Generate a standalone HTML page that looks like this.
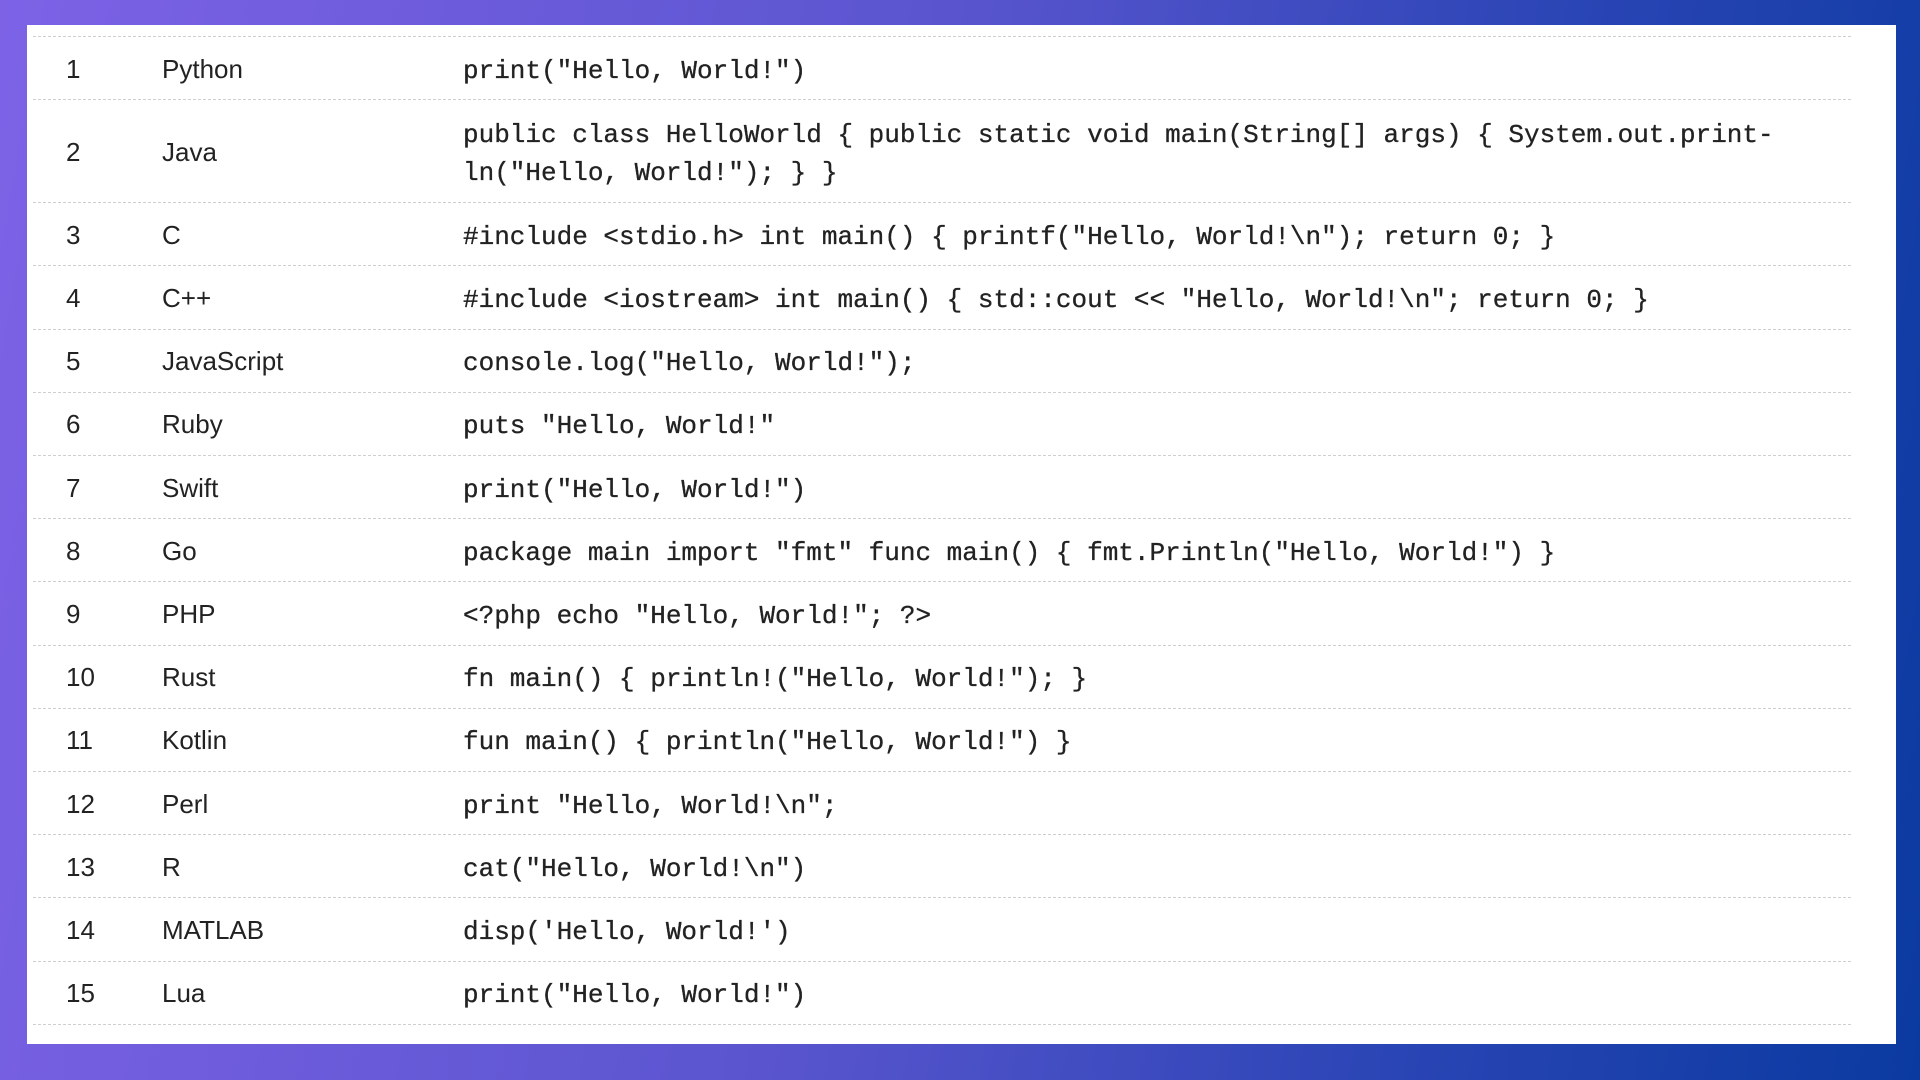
<!DOCTYPE html>
<html><head><style>
html,body{margin:0;padding:0;width:1920px;height:1080px;overflow:hidden}
body{background:linear-gradient(100deg,#7d62e6 0%,#5a55cf 45%,#2a45b5 75%,#0a3aa0 100%);position:relative}
#p{position:absolute;left:27px;top:25px;width:1869px;height:1019px;background:#fff}
.l{position:absolute;left:6px;width:1818px;border-top:1.5px dashed #cfcfcf}
.n,.g{position:absolute;font-family:"Liberation Sans",sans-serif;font-size:26px;color:#222}
.n{left:39px}.g{left:135px}
.c{position:absolute;left:436px;width:1400px;font-family:"Liberation Mono",monospace;font-size:26px;line-height:38px;color:#222;white-space:pre;-webkit-text-stroke:0.3px #222}
</style></head><body><div id="p"></div>
<script>
var d=[["1","Python",'print("Hello, World!")'],
["2","Java",'public class HelloWorld { public static void main(String[] args) { System.out.print-\nln("Hello, World!"); } }'],
["3","C",'#include <stdio.h> int main() { printf("Hello, World!\\n"); return 0; }'],
["4","C++",'#include <iostream> int main() { std::cout << "Hello, World!\\n"; return 0; }'],
["5","JavaScript",'console.log("Hello, World!");'],
["6","Ruby",'puts "Hello, World!"'],
["7","Swift",'print("Hello, World!")'],
["8","Go",'package main import "fmt" func main() { fmt.Println("Hello, World!") }'],
["9","PHP",'<?php echo "Hello, World!"; ?>'],
["10","Rust",'fn main() { println!("Hello, World!"); }'],
["11","Kotlin",'fun main() { println("Hello, World!") }'],
["12","Perl",'print "Hello, World!\\n";'],
["13","R",'cat("Hello, World!\\n")'],
["14","MATLAB","disp('Hello, World!')"],
["15","Lua",'print("Hello, World!")']];
var p=document.getElementById('p'),y=11;
function esc(s){return s.replace(/&/g,'&amp;').replace(/</g,'&lt;').replace(/>/g,'&gt;');}
var h='';
d.forEach(function(r,i){
 h+='<div class="l" style="top:'+y+'px"></div>';
 var hh=i==1?103:63.2;
 var mid=y+hh/2;
 h+='<div class="n" style="top:'+(mid-14)+'px">'+r[0]+'</div>';
 h+='<div class="g" style="top:'+(mid-14)+'px">'+r[1]+'</div>';
 var lines=r[2].split('\n').length;
 h+='<div class="c" style="top:'+(mid-lines*19+3)+'px">'+esc(r[2])+'</div>';
 y+=hh;
});
h+='<div class="l" style="top:'+y+'px"></div>';
p.innerHTML=h;
</script>
</body></html>
